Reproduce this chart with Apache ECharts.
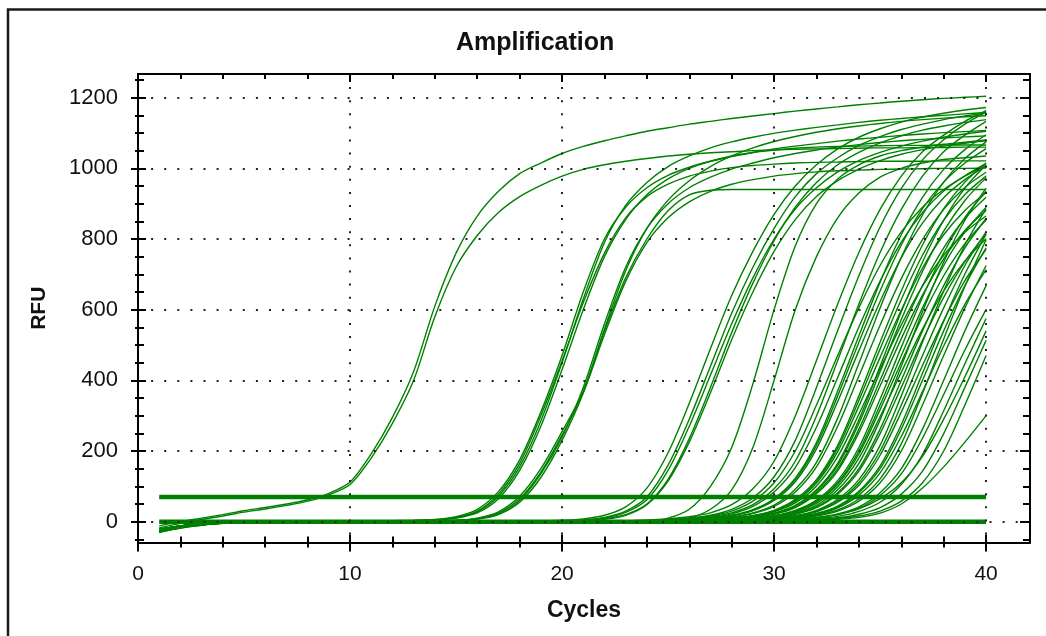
<!DOCTYPE html>
<html>
<head>
<meta charset="utf-8">
<script src="https://cdn.jsdelivr.net/npm/echarts@6.0.0/dist/echarts.min.js"></script>
<style>
html,body{margin:0;padding:0;background:#fff;}
#chart{width:1046px;height:636px;}
</style>
</head>
<body>
<div id="chart"></div>
<script>
// ---------------- data ----------------
const cycles = [1,2,3,4,5,6,7,8,9,10,11,12,13,14,15,16,17,18,19,20,21,22,23,24,25,26,27,28,29,30,31,32,33,34,35,36,37,38,39,40];

const xMajorTicks = [0,10,20,30,40];
const xMinorTicks = [2,4,6,8,12,14,16,18,22,24,26,28,32,34,36,38];
const yMajorTicks = [0,200,400,600,800,1000,1200];
const yMinorTicks = [-50,50,100,150,250,300,350,450,500,550,650,700,750,850,900,950,1050,1100,1150,1250];

const flat70 = [70,70,70,70,70,70,70,70,70,70,70,70,70,70,70,70,70,70,70,70,70,70,70,70,70,70,70,70,70,70,70,70,70,70,70,70,70,70,70,70];
const flat0  = [0,0,0,0,0,0,0,0,0,0,0,0,0,0,0,0,0,0,0,0,0,0,0,0,0,0,0,0,0,0,0,0,0,0,0,0,0,0,0,0];

const earlyA = [-12,0,10,20,31,40,50,62,80,112,192,295,425,610,760,865,935,985,1015,1042,1062,1078,1092,1105,1115,1125,1133,1141,1148,1155,1162,1168,1174,1180,1185,1190,1194,1198,1201,1204];
const earlyB = [-18,-5,6,16,27,36,46,58,76,105,180,278,400,580,720,810,875,920,952,978,997,1010,1020,1028,1035,1040,1044,1047,1050,1052,1054,1055,1056,1057,1058,1058,1059,1059,1060,1060];

const c2a1 = [-25,-14,-7,-3,-1,0,0,1,1,2,2,3,4,6,14,35,85,175,310,470,650,800,890,945,980,1003,1020,1033,1045,1055,1063,1070,1077,1083,1088,1093,1097,1101,1104,1107];
const c2a2 = [-28,-16,-8,-4,-2,-1,0,0,1,1,2,2,3,5,11,28,72,155,285,450,630,790,895,960,1005,1035,1058,1075,1088,1099,1108,1116,1123,1130,1136,1141,1146,1150,1154,1158];
const c2a3 = [-22,-12,-6,-3,-1,0,0,0,1,1,2,2,3,5,12,30,78,165,300,455,620,760,860,920,955,978,992,1002,1008,1012,1015,1017,1018,1019,1020,1020,1020,1021,1021,1021];
const c2a4 = [-26,-15,-8,-4,-2,-1,0,0,0,1,1,2,2,4,10,25,65,145,270,430,600,750,855,925,970,1000,1020,1035,1045,1052,1057,1060,1062,1063,1064,1065,1065,1066,1066,1066];
const c2b1 = [-24,-13,-7,-3,-1,0,0,0,1,1,1,2,2,3,4,10,28,72,150,255,370,540,690,800,880,925,938,940,940,940,940,940,940,940,940,940,940,940,940,940];
const c2b2 = [-27,-15,-8,-4,-2,-1,0,0,0,1,1,1,2,2,3,9,25,65,140,245,365,530,680,790,860,905,935,955,968,978,985,990,993,995,997,998,999,1000,1000,1001];
const c2b3 = [-23,-13,-7,-3,-1,0,0,0,1,1,1,2,2,3,4,8,22,60,135,240,380,560,720,830,900,945,975,998,1015,1030,1042,1052,1060,1067,1073,1078,1082,1086,1089,1092];
const c2b4 = [-29,-17,-9,-4,-2,-1,0,0,0,0,1,1,2,2,3,7,20,55,125,230,365,545,710,830,910,965,1005,1035,1058,1076,1090,1102,1112,1120,1127,1133,1138,1142,1146,1149];

const c3a1 = [-25,-14,-7,-3,-1,0,0,0,0,0,1,1,1,1,1,1,1,1,2,4,8,18,42,95,195,335,490,640,765,870,950,1010,1055,1088,1112,1131,1145,1156,1165,1172];
const c3a2 = [-28,-16,-8,-4,-2,-1,0,0,0,0,0,0,1,1,1,1,1,1,1,2,5,12,30,70,160,290,440,590,720,830,920,985,1030,1065,1090,1110,1125,1138,1148,1157];
const c3a3 = [-22,-12,-6,-3,-1,0,0,0,0,0,0,1,1,1,1,1,1,1,1,2,4,10,26,62,145,270,415,560,690,800,885,945,990,1022,1045,1063,1077,1088,1097,1105];
const c3a4 = [-26,-15,-8,-4,-2,-1,0,0,0,0,0,0,0,1,1,1,1,1,1,2,3,8,20,50,120,235,380,535,675,795,890,960,1010,1045,1072,1092,1108,1120,1130,1138];
const c3a5 = [-30,-18,-10,-5,-2,-1,0,0,0,0,0,0,0,0,1,1,1,1,1,2,3,7,18,48,115,225,365,515,650,765,855,920,965,998,1022,1040,1053,1063,1071,1078];
const c3b  = [-24,-13,-7,-3,-1,0,0,0,0,0,0,0,0,0,0,0,1,1,1,1,1,1,1,2,10,35,100,210,390,600,780,900,970,1010,1035,1050,1060,1068,1074,1080];
const c3c  = [-27,-15,-8,-4,-2,-1,0,0,0,0,0,0,0,0,0,0,0,1,1,1,1,1,1,2,3,10,35,90,210,400,600,750,860,930,975,1000,1015,1025,1030,1035];

const g4_01 = [-26,-15,-8,-4,-2,-1,0,0,0,0,0,0,0,0,0,0,0,0,0,1,1,1,2,5,8,14,25,48,93,171,299,456,616,762,884,978,1047,1094,1133,1163];
const g4_02 = [-24,-13,-7,-3,-1,0,0,0,0,0,0,0,0,0,0,0,0,1,1,1,1,1,2,3,6,10,18,35,67,127,230,380,541,696,834,943,1024,1081,1125,1159];
const g4_03 = [-28,-16,-9,-4,-2,-1,0,0,0,0,0,0,0,0,0,0,0,0,0,1,1,1,1,2,5,8,14,25,48,93,171,299,456,616,762,884,978,1047,1094,1133];
const g4_04 = [-25,-14,-7,-3,-1,0,0,0,0,0,0,0,0,0,0,0,0,0,1,1,1,1,2,2,3,6,10,18,34,65,123,224,370,526,678,812,918,997,1053,1095];
const g4_05 = [-23,-13,-7,-3,-1,0,0,0,0,0,0,0,0,0,0,0,0,0,1,1,1,1,1,2,4,7,12,22,43,84,153,267,408,551,681,791,875,936,979,1014];
const g4_06 = [-29,-17,-9,-4,-2,-1,0,0,0,0,0,0,0,0,0,0,0,0,0,1,1,1,1,1,3,5,9,16,31,60,113,206,340,484,623,747,845,917,968,1007];
const g4_07 = [-26,-15,-8,-4,-2,-1,0,0,0,0,0,0,0,0,0,0,0,0,1,1,1,1,1,1,2,4,7,12,23,43,84,155,270,412,556,688,798,884,946,989];
const g4_08 = [-22,-12,-6,-3,-1,0,0,0,0,0,0,0,0,0,0,0,0,0,0,1,1,1,1,1,2,3,5,10,17,31,60,114,208,343,489,629,754,853,926,978];
const g4_09 = [-27,-15,-8,-4,-2,-1,0,0,0,0,0,0,0,0,0,0,0,0,0,0,1,1,1,1,2,3,5,9,16,30,57,109,198,327,465,599,718,812,881,931];
const g4_10 = [-25,-14,-7,-3,-1,0,0,0,0,0,0,0,0,0,0,0,0,0,0,0,1,1,1,1,1,2,4,7,12,22,42,82,150,262,400,540,668,775,858,918];
const g4_11 = [-30,-18,-10,-5,-2,-1,0,0,0,0,0,0,0,0,0,0,0,0,0,0,0,1,1,1,1,2,4,7,12,21,40,79,144,252,384,518,641,744,824,881];
const g4_12 = [-24,-13,-7,-3,-1,0,0,0,0,0,0,0,0,0,0,0,0,0,0,0,1,1,1,1,2,2,3,5,9,16,30,58,110,200,330,470,605,725,820,890];
const g4_13 = [-28,-16,-8,-4,-2,-1,0,0,0,0,0,0,0,0,0,0,0,0,0,0,0,1,1,1,1,2,3,5,9,15,29,56,106,192,317,451,581,696,787,854];
const g4_14 = [-23,-13,-7,-3,-1,0,0,0,0,0,0,0,0,0,0,0,0,0,0,0,1,1,1,1,1,1,2,4,7,12,22,42,82,150,262,400,540,668,775,858];
const g4_15 = [-26,-15,-8,-4,-2,-1,0,0,0,0,0,0,0,0,0,0,0,0,0,0,0,1,1,1,1,1,2,4,7,11,21,40,78,143,249,380,513,635,736,815];
const g4_16 = [-29,-17,-9,-4,-2,-1,0,0,0,0,0,0,0,0,0,0,0,0,0,0,1,1,1,1,1,2,2,3,5,9,16,30,58,110,200,330,470,605,725,820];
const g4_17 = [-25,-14,-7,-3,-1,0,0,0,0,0,0,0,0,0,0,0,0,0,0,0,0,1,1,1,1,1,2,3,5,8,15,28,55,103,188,310,442,569,682,771];
const g4_18 = [-22,-12,-6,-3,-1,0,0,0,0,0,0,0,0,0,0,0,0,0,0,0,0,1,1,1,1,1,1,2,4,7,12,22,42,82,150,262,400,540,668,775];
const g4_19 = [-27,-15,-8,-4,-2,-1,0,0,0,0,0,0,0,0,0,0,0,0,0,0,0,0,1,1,1,1,1,2,4,6,11,20,39,75,138,241,368,497,615,713];
const g4_20 = [-24,-13,-7,-3,-1,0,0,0,0,0,0,0,0,0,0,0,0,0,0,0,0,1,1,1,1,1,2,2,3,5,9,16,30,58,110,200,330,470,605,725];
const g4_21 = [-28,-16,-8,-4,-2,-1,0,0,0,0,0,0,0,0,0,0,0,0,0,0,0,0,1,1,1,1,1,1,2,4,7,12,22,42,82,150,262,400,540,668];
const g4_22 = [-25,-14,-7,-3,-1,0,0,0,0,0,0,0,0,0,0,0,0,0,0,0,0,0,1,1,1,1,1,1,2,4,6,11,20,38,74,135,236,360,486,601];
const g4_23 = [-23,-13,-7,-3,-1,0,0,0,0,0,0,0,0,0,0,0,0,0,0,0,0,0,1,1,1,1,1,2,2,3,5,9,15,29,55,105,190,314,447,575];
const g4_24 = [-26,-15,-8,-4,-2,-1,0,0,0,0,0,0,0,0,0,0,0,0,0,0,0,0,0,1,1,1,1,1,1,2,4,7,11,21,40,78,143,249,380,513];
const g4_25 = [-29,-17,-9,-4,-2,-1,0,0,0,0,0,0,0,0,0,0,0,0,0,0,0,0,0,1,1,1,1,1,2,2,3,5,9,16,30,58,110,200,330,470];
const g4_26 = [-24,-13,-7,-3,-1,0,0,0,0,0,0,0,0,0,0,0,0,0,0,0,0,0,0,0,1,1,1,1,1,1,2,4,7,12,24,50,95,155,225,300];
const g4_27 = [-27,-15,-8,-4,-2,-1,0,0,0,0,0,0,0,0,0,0,0,0,0,0,0,0,0,1,1,1,1,2,2,3,6,11,20,36,65,110,185,290,410,540];
const g4_28 = [-25,-14,-7,-3,-1,0,0,0,0,0,0,0,0,0,0,0,0,0,0,1,1,1,1,2,2,3,5,10,17,32,63,119,216,356,508,653,783,886,961,1015];
const g4_29 = [-22,-12,-6,-3,-1,0,0,0,0,0,0,0,0,0,0,0,0,0,0,0,1,1,1,1,1,2,3,5,9,17,32,61,116,210,347,494,635,761,861,935];
const g4_30 = [-28,-16,-8,-4,-2,-1,0,0,0,0,0,0,0,0,0,0,0,0,0,0,1,1,1,1,1,2,4,7,13,23,45,87,159,278,424,572,708,822,909,973];
const g4_31 = [-26,-15,-8,-4,-2,-1,0,0,0,0,0,0,0,0,0,0,0,0,0,1,1,1,1,2,3,5,10,17,32,63,119,216,356,508,653,783,886,961,1015,1056];
const g4_32 = [-24,-13,-7,-3,-1,0,0,0,0,0,0,0,0,0,0,0,0,0,0,0,1,1,1,1,1,2,4,8,13,24,46,90,165,288,440,594,735,853,944,1010];
const g4_33 = [-27,-15,-8,-4,-2,-1,0,0,0,0,0,0,0,0,0,0,0,0,0,0,0,1,1,1,1,1,2,4,8,13,24,46,90,165,288,440,594,735,853,944];
const g4_34 = [-23,-13,-7,-3,-1,0,0,0,0,0,0,0,0,0,0,0,0,0,0,0,1,1,1,1,2,3,5,8,15,28,53,101,184,304,432,557,667,754,819,865];
const g4_35 = [-28,-16,-8,-4,-2,-1,0,0,0,0,0,0,0,0,0,0,0,0,0,0,0,0,1,1,1,1,2,3,5,10,17,32,63,119,216,356,508,653,783,886];
const g4_36 = [-25,-14,-7,-3,-1,0,0,0,0,0,0,0,0,0,0,0,0,0,0,0,1,1,1,1,1,2,3,5,8,14,27,52,99,180,297,423,545,653,738,801];
const g4_37 = [-22,-12,-6,-3,-1,0,0,0,0,0,0,0,0,0,0,0,0,0,0,0,0,0,1,1,1,1,1,2,3,6,10,18,33,64,121,220,363,517,666,798];
const g4_38 = [-29,-17,-9,-4,-2,-1,0,0,0,0,0,0,0,0,0,0,0,0,0,1,1,1,1,1,2,4,8,13,25,47,92,168,293,448,605,748,868,961,1028,1075];
const g4_39 = [-26,-15,-8,-4,-2,-1,0,0,0,0,0,0,0,0,0,0,0,0,1,1,1,1,2,3,5,9,16,30,58,110,200,330,470,605,725,820,890,940,978,1008];
const g4_40 = [-24,-13,-7,-3,-1,0,0,0,0,0,0,0,0,0,0,0,0,0,0,0,0,1,1,1,1,1,1,2,4,7,13,23,44,86,158,275,420,567,701,814];

const curves = [earlyA, earlyB, c2a1, c2a2, c2a3, c2a4, c2b1, c2b2, c2b3, c2b4,
  c3a1, c3a2, c3a3, c3a4, c3a5, c3b, c3c,
  g4_01, g4_02, g4_03, g4_04, g4_05, g4_06, g4_07, g4_08, g4_09, g4_10,
  g4_11, g4_12, g4_13, g4_14, g4_15, g4_16, g4_17, g4_18, g4_19, g4_20,
  g4_21, g4_22, g4_23, g4_24, g4_25, g4_26, g4_27, g4_28, g4_29, g4_30,
  g4_31, g4_32, g4_33, g4_34, g4_35, g4_36, g4_37, g4_38, g4_39, g4_40];
const flatLines = [flat70, flat0];

// ---------------- chart ----------------
const X_MIN = 0, X_MAX = 42.07, Y_MIN = -59, Y_MAX = 1267;
const FONT = "'Liberation Sans', Arial, sans-serif";
const BLACK = '#000';
const GREEN = '#008000';
const dotted = { color: '#222', width: 2, type: [2, 11.1] };

function tickAxis(kind, pos, ticks, len, inside, withLine) {
  const isX = kind === 'x';
  return {
    type: 'value', gridIndex: 0, position: pos,
    min: isX ? X_MIN : Y_MIN, max: isX ? X_MAX : Y_MAX,
    splitNumber: isX ? 4 : 6,
    axisLine: { show: !!withLine, onZero: false, lineStyle: { color: BLACK, width: 2 } },
    axisTick: { show: true, inside: inside, length: len, customValues: ticks, lineStyle: { color: BLACK, width: 2 } },
    axisLabel: { show: false },
    splitLine: { show: false },
    minorTick: { show: false },
    z: 5
  };
}

const xAxes = [
  {
    type: 'value', gridIndex: 0, position: 'bottom', min: X_MIN, max: X_MAX, splitNumber: 4,
    axisLine: { show: true, onZero: false, lineStyle: { color: BLACK, width: 2 } },
    axisTick: { show: true, inside: false, length: 9, customValues: xMajorTicks, lineStyle: { color: BLACK, width: 2 } },
    axisLabel: { show: true, customValues: xMajorTicks, margin: 21, fontSize: 21, fontFamily: FONT, color: '#111',
                 formatter: v => String(v) },
    splitLine: { show: true, lineStyle: dotted },
    name: 'Cycles', nameLocation: 'middle', nameGap: 57,
    nameTextStyle: { fontSize: 23, fontWeight: 'bold', fontFamily: FONT, color: '#111' },
    z: 5
  },
  tickAxis('x', 'bottom', xMajorTicks, 8, true, false),
  tickAxis('x', 'bottom', xMinorTicks, 5, false, false),
  tickAxis('x', 'bottom', xMinorTicks, 6, true, false),
  tickAxis('x', 'top', xMajorTicks, 8, true, true),
  tickAxis('x', 'top', xMinorTicks, 5, true, false)
];

const yAxes = [
  {
    type: 'value', gridIndex: 0, position: 'left', min: Y_MIN, max: Y_MAX, splitNumber: 6,
    axisLine: { show: true, onZero: false, lineStyle: { color: BLACK, width: 2 } },
    axisTick: { show: true, inside: false, length: 7, customValues: yMajorTicks, lineStyle: { color: BLACK, width: 2 } },
    axisLabel: { show: true, customValues: yMajorTicks, margin: 20, fontSize: 22, fontFamily: FONT, color: '#111',
                 formatter: v => String(v) },
    splitLine: { show: true, lineStyle: dotted },
    name: 'RFU', nameLocation: 'middle', nameGap: 88,
    nameTextStyle: { fontSize: 21, fontWeight: 'bold', fontFamily: FONT, color: '#111' },
    z: 5
  },
  tickAxis('y', 'left', yMajorTicks, 8, true, false),
  tickAxis('y', 'left', yMinorTicks, 3, false, false),
  tickAxis('y', 'left', yMinorTicks, 6, true, false),
  tickAxis('y', 'right', yMajorTicks, 10, true, true),
  tickAxis('y', 'right', yMinorTicks, 7, true, false)
];

function toPairs(arr) { return arr.map((v, i) => [cycles[i], v]); }

const series = [];
curves.forEach((arr, i) => {
  series.push({
    type: 'line', name: 'well' + (i + 1), data: toPairs(arr),
    showSymbol: false, symbol: 'none', smooth: 0.3, silent: true,
    lineStyle: { color: GREEN, width: 1.4 }, z: 2
  });
});
flatLines.forEach((arr, i) => {
  series.push({
    type: 'line', name: 'flat' + (i + 1), data: toPairs(arr),
    showSymbol: false, symbol: 'none', silent: true,
    lineStyle: { color: GREEN, width: 4.5 }, z: 3
  });
});

const chart = echarts.init(document.getElementById('chart'), null, { renderer: 'canvas' });
chart.setOption({
  animation: false,
  backgroundColor: '#fff',
  title: {
    text: 'Amplification', left: 456, top: 31, padding: 0,
    textStyle: { fontSize: 25, fontWeight: 'bold', fontFamily: FONT, color: '#111' }
  },
  grid: { left: 138, right: 16, top: 74, bottom: 93.5 },
  xAxis: xAxes,
  yAxis: yAxes,
  graphic: [{
    type: 'rect', silent: true, z: 100,
    shape: { x: 8, y: 9.5, width: 1200, height: 800 },
    style: { fill: null, stroke: '#1a1a1a', lineWidth: 2.5 }
  }],
  series: series
});
</script>
</body>
</html>
